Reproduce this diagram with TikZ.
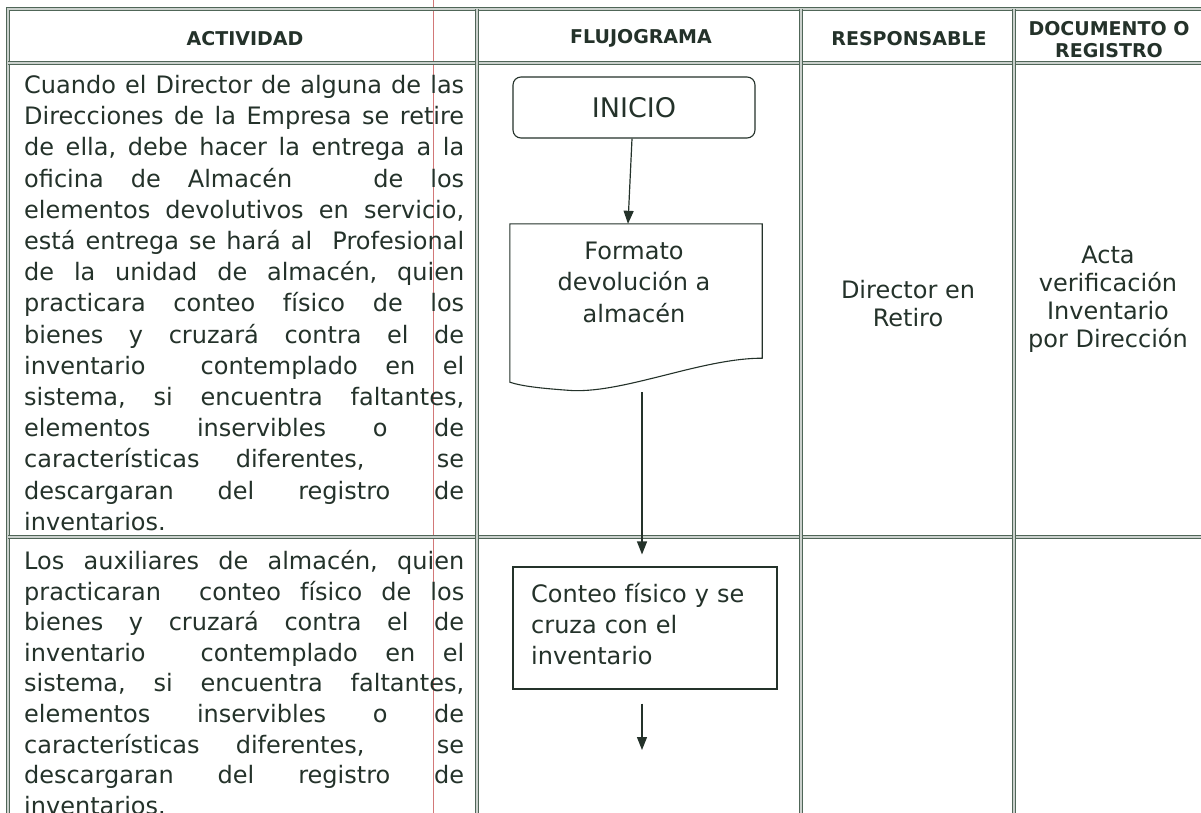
\documentclass[tikz,border=0pt]{standalone}
\usepackage{fontspec}
\setmainfont{DejaVu Sans}
\usetikzlibrary{arrows.meta}
\definecolor{ink}{RGB}{36,50,42}
\definecolor{rulec}{RGB}{80,102,88}
\definecolor{redline}{RGB}{210,120,120}
\newcommand{\bodyfs}{\fontsize{24}{31.2}\selectfont\frenchspacing}
\newcommand{\bodyfsb}{\fontsize{24}{30.6}\selectfont\frenchspacing}
\newcommand{\cellfs}{\fontsize{24}{28}\selectfont}
\newcommand{\headfs}{\fontsize{19}{22}\selectfont\bfseries}
\newcommand{\jl}[1]{\hbox to 440pt{\spaceskip=0.3em plus 1fil\relax #1}}
\begin{document}
\begin{tikzpicture}[x=1pt,y=-1pt,
  tab/.style={draw=rulec, line width=1.1pt, double=rulec!30, double distance=1.4pt},
  head/.style={text=ink, font=\headfs, inner sep=0pt, align=center},
  para/.style={text=ink, inner sep=0pt, text width=440pt, align=left, anchor=north west},
  cell/.style={text=ink, font=\cellfs, inner sep=0pt, align=center},
  flow/.style={draw=ink, line width=1.1pt},
  arr/.style={draw=ink, line width=1.2pt, -{Triangle[length=13pt,width=10pt]}}]
\useasboundingbox (0,0) rectangle (1201,813);
\clip (0,0) rectangle (1201,813);
\fill[white] (0,0) rectangle (1201,813);
% scan margin line
\draw[redline, line width=0.6pt] (433,0) -- (433,813);
% table
\draw[tab] (8,840) -- (8,9) -- (1220,9);
\draw[tab] (8,63) -- (1220,63);
\draw[tab] (8,537) -- (1220,537);
\draw[tab] (477,9) -- (477,840);
\draw[tab] (801,9) -- (801,840);
\draw[tab] (1014,9) -- (1014,840);
% headers
\node[head] (hact) at (245,38.5) {ACTIVIDAD};
\node[head] (hflu) at (641,38.5) {FLUJOGRAMA};
\node[head] (hres) at (909,38.5) {RESPONSABLE};
\node[head] (hdoc) at (1109,40) {DOCUMENTO O\\REGISTRO};
% activity texts
\node[para, font=\bodyfs] (act1) at (24,75) {%
\jl{Cuando el Director de alguna de las}
\jl{Direcciones de la Empresa se retire}
\jl{de ella, debe hacer la entrega a la}
\jl{oficina de Almacén\ \ \ de los}
\jl{elementos devolutivos en servicio,}
\jl{está entrega se hará al\ \ Profesional}
\jl{de la unidad de almacén, quien}
\jl{practicara conteo físico de los}
\jl{bienes y cruzará contra el de}
\jl{inventario\ \ contemplado en el}
\jl{sistema, si encuentra faltantes,}
\jl{elementos inservibles o de}
\jl{características diferentes,\ \ se}
\jl{descargaran del registro de}
\hbox{inventarios.}};
\node[para, font=\bodyfsb] (act2) at (24,550) {%
\jl{Los auxiliares de almacén, quien}
\jl{practicaran\ \ conteo físico de los}
\jl{bienes y cruzará contra el de}
\jl{inventario\ \ contemplado en el}
\jl{sistema, si encuentra faltantes,}
\jl{elementos inservibles o de}
\jl{características diferentes,\ \ se}
\jl{descargaran del registro de}
\hbox{inventarios.}};
% flowchart
\node[flow, rounded corners=8pt, minimum width=242pt, minimum height=61pt, text=ink, font=\fontsize{27}{30}\selectfont, inner sep=0pt] (inicio) at (634,107.5) {INICIO};
\node[minimum width=252pt, minimum height=166pt, inner sep=0pt] (docshape) at (636,307) {};
\draw[flow] (docshape.north west) -- (docshape.north east) -- ([yshift=32pt]docshape.south east)
  .. controls ([xshift=-62pt,yshift=32pt]docshape.south east) and ([xshift=-16pt,yshift=-5pt]docshape.south) .. ([xshift=-69pt]docshape.south)
  .. controls ([xshift=-96pt,yshift=2pt]docshape.south) and ([xshift=-114pt,yshift=4pt]docshape.south) .. ([yshift=8pt]docshape.south west) -- cycle;
\node[text=ink, font=\fontsize{24}{31.5}\selectfont, inner sep=0pt, align=center] (doctext) at (634,282) {Formato\\devolución a\\almacén};
\node[flow, minimum width=264pt, minimum height=122pt, inner sep=0pt] (conteo) at (645,628) {};
\node[text=ink, font=\fontsize{24}{31}\selectfont, inner sep=0pt, text width=240pt, align=left, anchor=west] (conteotext) at (531,624) {Conteo físico y se\\cruza con el\\inventario};
\coordinate (endarrow) at (642,750);
\draw[arr] ([xshift=-2pt]inicio.south) -- ([xshift=-8pt]docshape.north);
\draw[arr] ([xshift=6pt,yshift=-2pt]docshape.south) -- ([xshift=-3pt,yshift=12pt]conteo.north);
\draw[arr] ([xshift=-3pt,yshift=-14pt]conteo.south) -- (endarrow);
% responsible and document
\node[cell] (resp) at (908,304) {Director en\\Retiro};
\node[cell] (docu) at (1108,299) {Acta\\verificación\\Inventario\\por Dirección};
\end{tikzpicture}
\end{document}
